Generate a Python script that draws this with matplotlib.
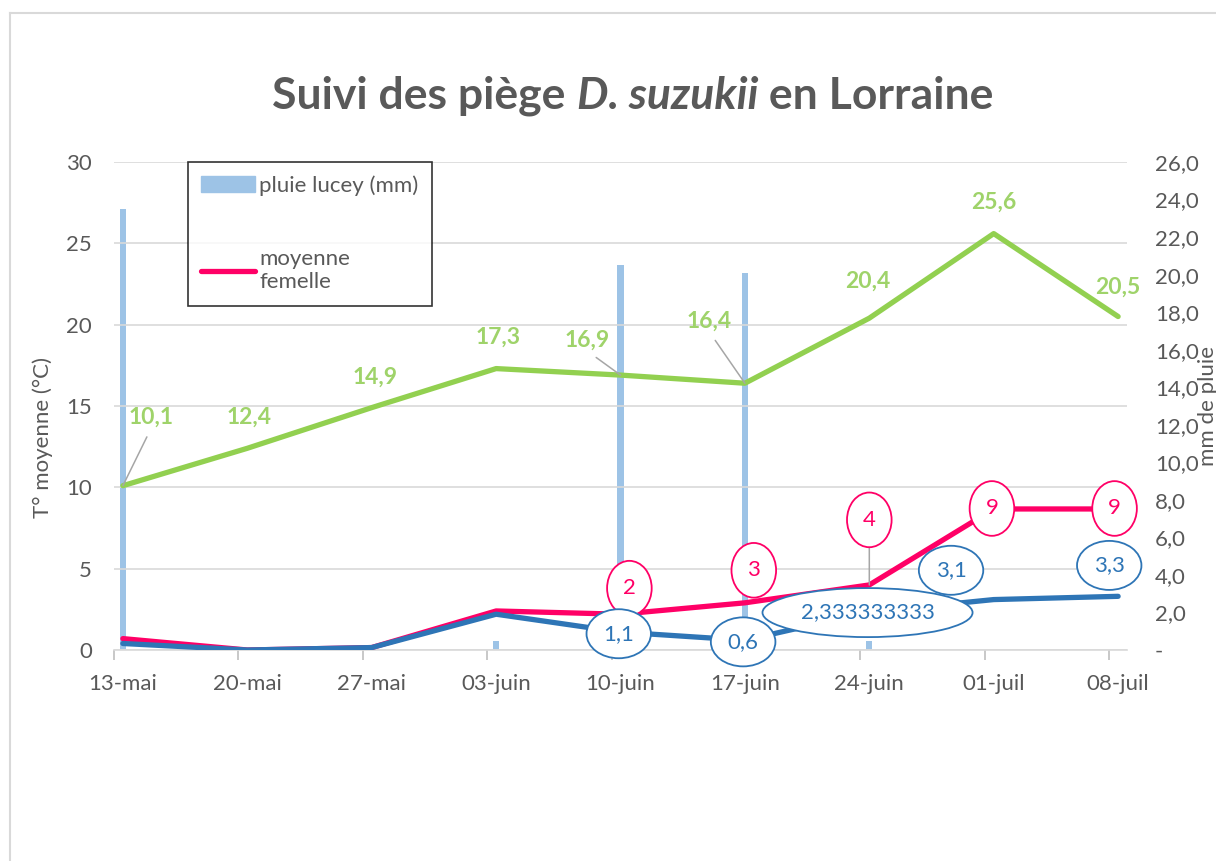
import numpy as np
import matplotlib.pyplot as plt
from matplotlib.lines import Line2D
from matplotlib.patches import Patch

plt.rcParams['font.family'] = ['Lato', 'DejaVu Sans']

# data
dates = ['13-mai', '20-mai', '27-mai', '03-juin', '10-juin', '17-juin', '24-juin', '01-juil', '08-juil']
days = np.arange(len(dates)) * 7 + 0.5   # day centre on an Excel date axis

temp_moy = [10.1, 12.4, 14.9, 17.3, 16.9, 16.4, 20.4, 25.6, 20.5]
moy_femelle = [0.7, 0.0, 0.15, 2.4, 2.2, 2.9, 4.0, 8.67, 8.67]
moy_male = [0.4, 0.0, 0.15, 2.2, 1.1, 0.6, 2.333333333, 3.1, 3.3]

pluie_days = [0.5, 21.5, 28.5, 35.5, 42.5]
pluie = [23.5, 0.5, 20.5, 20.1, 0.5]

grey = '#595959'
green = '#92d050'
green_lbl = '#9fd36a'
pink = '#ff0066'
blue = '#2e75b6'
rain = '#9dc3e6'
fs = 16

fig = plt.figure(figsize=(12.16, 8.61), dpi=100)
ax = fig.add_axes([114/1216, 1 - 650/861, 1013/1216, 488/861])
ax2 = ax.twinx()
ax.set_zorder(ax2.get_zorder() + 1)
ax.patch.set_visible(False)

# rain bars on the right axis
ax2.bar(pluie_days, pluie, width=0.35, color=rain, zorder=2)
ax2.set_ylim(0, 26)
ax2.set_yticks(np.arange(0, 27, 2))
ax2.set_yticklabels(['-'] + [('%.1f' % v).replace('.', ',') for v in np.arange(2, 27, 2)])
ax2.yaxis.set_tick_params(length=0, pad=20, labelsize=fs, labelcolor=grey)
for s in ax2.spines.values():
    s.set_visible(False)

# lines on the left axis
ax.plot(days, temp_moy, color=green, lw=3.8, solid_capstyle='round', zorder=3)
ax.plot(days, moy_femelle, color=pink, lw=3.8, solid_capstyle='round', zorder=4)
ax.plot(days, moy_male, color=blue, lw=3.8, solid_capstyle='round', zorder=5)

ax.set_xlim(0, 57)
ax.set_ylim(0, 30)
ax.set_yticks(np.arange(0, 31, 5))
ax.yaxis.grid(True, color='#d9d9d9', lw=1.2, zorder=0)
ax.set_axisbelow(True)
ax.tick_params(axis='y', length=0, pad=16, labelsize=fs, labelcolor=grey)
ax.set_xticks(np.arange(0, 57, 7))
ax.set_xticklabels([])
ax.set_xticks(days, minor=True)
ax.set_xticklabels(dates, minor=True)
ax.tick_params(axis='x', which='major', length=7, color='#bfbfbf', width=1.2)
ax.tick_params(axis='x', which='minor', length=0, pad=17, labelsize=fs, labelcolor=grey)
for k in ['left', 'right', 'top']:
    ax.spines[k].set_visible(False)
ax.spines['bottom'].set_color('#d9d9d9')
ax.spines['bottom'].set_linewidth(1.2)

# green labels
green_pos = [(2.1, 14.3), (7.6, 14.3), (14.7, 16.8), (21.6, 19.2), (26.6, 19.05),
             (33.5, 20.2), (42.4, 22.7), (49.5, 27.5), (56.5, 22.3)]
lead = [0, 4, 5]
for i, (v, p) in enumerate(zip(temp_moy, green_pos)):
    txt = ('%.1f' % v).replace('.', ',')
    if i in lead:
        ax.annotate(txt, xy=(days[i], v), xytext=p, ha='center', va='center',
                    color=green_lbl, fontsize=16.5, fontweight='bold', zorder=6,
                    arrowprops=dict(arrowstyle='-', color='#a6a6a6', lw=1.1, relpos=(0.5, 0),
                                    shrinkA=5, shrinkB=0))
    else:
        ax.text(p[0], p[1], txt, ha='center', va='center', color=green_lbl,
                fontsize=16.5, fontweight='bold', zorder=6)

# pink labels
pink_pos = [(29.0, 3.8), (36.0, 4.9), (42.5, 8.0), (49.4, 8.7), (56.3, 8.7)]
for j, p in enumerate(pink_pos):
    i = j + 4
    txt = '%d' % round(moy_femelle[i])
    kw = {}
    if i == 6:
        kw['arrowprops'] = dict(arrowstyle='-', color='#a6a6a6', lw=1.1, shrinkA=0, shrinkB=0)
    ax.annotate(txt, xy=(days[i], moy_femelle[i]), xytext=p, ha='center', va='center',
                color=pink, fontsize=fs, zorder=7,
                bbox=dict(boxstyle='ellipse,pad=0.42', fc='white', ec=pink, lw=1.3), **kw)

# blue labels
blue_pos = [(28.4, 1.0), (35.4, 0.5), (42.4, 2.3), (47.1, 4.9), (56.0, 5.2)]
for j, p in enumerate(blue_pos):
    i = j + 4
    v = moy_male[i]
    txt = ('%.9f' % v).rstrip('0').rstrip('.').replace('.', ',')
    ax.text(p[0], p[1], txt, ha='center', va='center', color=blue, fontsize=fs, zorder=8,
            bbox=dict(boxstyle='ellipse,pad=0.33', fc='white', ec=blue, lw=1.3))

# legend (only two entries shown in the original)
handles = [Patch(color=rain), Line2D([], [], color=pink, lw=3.8, solid_capstyle='round')]
leg = ax.legend(handles, ['pluie lucey (mm)', 'moyenne\nfemelle'], loc='upper left',
                bbox_to_anchor=(0.073, 1.0), frameon=True, fancybox=False, fontsize=fs,
                labelcolor=grey, handlelength=2.4, handletextpad=0.2, labelspacing=2.4,
                borderpad=0.6, borderaxespad=0)
leg.get_frame().set_edgecolor('black')
leg.get_frame().set_linewidth(1.2)
leg.set_zorder(10)

# axis titles
fig.text(43/1216, 1 - 438/861, 'T° moyenne (°C)', rotation=90, ha='center', va='center',
         fontsize=16, color=grey)
fig.text(1208/1216, 1 - 406/861, 'mm de pluie', rotation=90, ha='center', va='center',
         fontsize=16, color=grey)

# title in three pieces (italic species name)
parts = [('Suivi des piège ', 'normal'), ('D. suzukii', 'italic'), (' en Lorraine', 'normal')]
fig.canvas.draw()
r = fig.canvas.get_renderer()
objs = []
for s, st in parts:
    objs.append(fig.text(0, 1 - 96/861, s, fontsize=32, fontweight='bold', style=st,
                         color=grey, va='center', ha='left'))
widths = [o.get_window_extent(r).width for o in objs]
x0 = 633 - sum(widths) / 2
for o, w in zip(objs, widths):
    o.set_x(x0 / 1216)
    x0 += w

# chart area border
fig.add_artist(Line2D([10/1216, 10/1216], [0, 1 - 13/861], color='#d9d9d9', lw=1.5))
fig.add_artist(Line2D([10/1216, 1], [1 - 13/861, 1 - 13/861], color='#d9d9d9', lw=1.5))

plt.savefig('out.png', dpi=100)
